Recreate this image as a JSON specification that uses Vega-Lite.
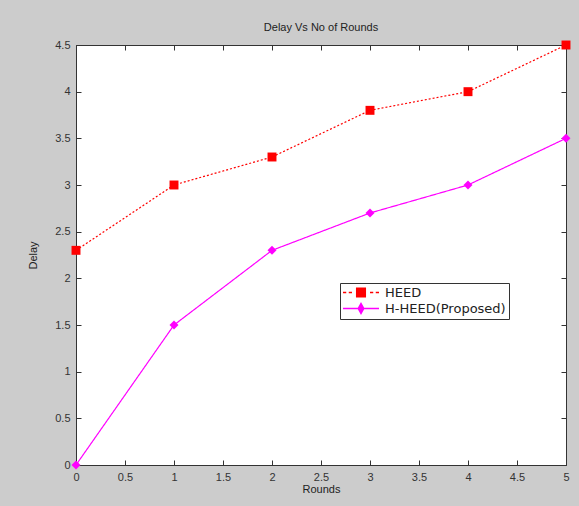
{
  "$schema": "https://vega.github.io/schema/vega-lite/v6.json",
  "width": 490,
  "height": 420,
  "autosize": {"type": "none"},
  "padding": {"left": 76, "top": 45, "right": 13, "bottom": 41},
  "background": "#cccccc",
  "title": {"text": "Delay Vs No of Rounds", "font": "Liberation Sans", "fontSize": 11, "fontWeight": "normal", "color": "#222", "offset": 6},
  "config": {
    "view": {"stroke": "#333", "strokeWidth": 1, "fill": "white"},
    "axis": {"labelFont": "Liberation Sans", "labelFontSize": 11, "labelColor": "#333", "titleFont": "Liberation Sans", "titleFontSize": 11, "titleFontWeight": "normal", "titleColor": "#222", "grid": false, "domainColor": "#333", "tickColor": "#333", "format": "~g", "labelFlush": false},
    "legend": {"orient": "none", "legendX": 264, "legendY": 238, "fillColor": "white", "strokeColor": "#333", "padding": 3, "labelFont": "DejaVu Sans", "labelFontSize": 13, "labelColor": "#222", "symbolSize": 1296, "clipHeight": 13, "rowPadding": 2, "labelOffset": 6, "symbolOpacity": 1, "symbolStrokeWidth": 0}
  },
  "resolve": {"axis": {"x": "independent", "y": "independent"}},
  "data": {"values": [
    {"round": 0, "delay": 2.3, "series": "HEED"},
    {"round": 1, "delay": 3.0, "series": "HEED"},
    {"round": 2, "delay": 3.3, "series": "HEED"},
    {"round": 3, "delay": 3.8, "series": "HEED"},
    {"round": 4, "delay": 4.0, "series": "HEED"},
    {"round": 5, "delay": 4.5, "series": "HEED"},
    {"round": 0, "delay": 0.0, "series": "H-HEED(Proposed)"},
    {"round": 1, "delay": 1.5, "series": "H-HEED(Proposed)"},
    {"round": 2, "delay": 2.3, "series": "H-HEED(Proposed)"},
    {"round": 3, "delay": 2.7, "series": "H-HEED(Proposed)"},
    {"round": 4, "delay": 3.0, "series": "H-HEED(Proposed)"},
    {"round": 5, "delay": 3.5, "series": "H-HEED(Proposed)"}
  ]},
  "layer": [
    {
      "mark": {"type": "line", "strokeWidth": 1.2, "clip": false},
      "encoding": {
        "x": {"field": "round", "type": "quantitative", "scale": {"domain": [0, 5], "nice": false}, "axis": {"title": "Rounds", "values": [0,0.5,1,1.5,2,2.5,3,3.5,4,4.5,5], "tickSize": 0, "labelPadding": 6, "titlePadding": 1}},
        "y": {"field": "delay", "type": "quantitative", "scale": {"domain": [0, 4.5], "nice": false}, "axis": {"title": "Delay", "values": [0,0.5,1,1.5,2,2.5,3,3.5,4,4.5], "tickSize": 0, "labelPadding": 6, "titlePadding": 16}},
        "color": {"field": "series", "type": "nominal", "scale": {"domain": ["HEED", "H-HEED(Proposed)"], "range": ["#ff0000", "#ff00ff"]}, "legend": {"title": null}},
        "strokeDash": {"field": "series", "type": "nominal", "scale": {"domain": ["HEED", "H-HEED(Proposed)"], "range": [[2, 2], [1, 0]]}, "legend": null}
      }
    },
    {
      "mark": {"type": "point", "filled": true, "opacity": 1, "size": 80, "clip": false},
      "encoding": {
        "x": {"field": "round", "type": "quantitative", "axis": {"orient": "top", "offset": -420, "values": [0,0.5,1,1.5,2,2.5,3,3.5,4,4.5,5], "labels": false, "domain": false, "title": null, "tickSize": 5}},
        "y": {"field": "delay", "type": "quantitative", "axis": {"orient": "right", "offset": -490, "values": [0,0.5,1,1.5,2,2.5,3,3.5,4,4.5], "labels": false, "domain": false, "title": null, "tickSize": 5}},
        "color": {"field": "series", "type": "nominal", "legend": {"title": null}},
        "shape": {"condition": {"test": "datum.series === 'HEED'", "value": "square"}, "value": "diamond"}
      }
    },
    {
      "mark": {"type": "point", "filled": true, "opacity": 0, "clip": false},
      "encoding": {
        "x": {"field": "round", "type": "quantitative", "axis": {"orient": "bottom", "offset": -420, "values": [0,0.5,1,1.5,2,2.5,3,3.5,4,4.5,5], "labels": false, "domain": false, "title": null, "tickSize": 5}},
        "y": {"field": "delay", "type": "quantitative", "axis": {"orient": "left", "offset": -490, "values": [0,0.5,1,1.5,2,2.5,3,3.5,4,4.5], "labels": false, "domain": false, "title": null, "tickSize": 5}},
        "color": {"field": "series", "type": "nominal", "legend": {"title": null}},
        "shape": {"field": "series", "type": "nominal",
          "scale": {"domain": ["HEED", "H-HEED(Proposed)"], "range": [
            "M-1,-0.035L-0.82,-0.035L-0.82,0.035L-1,0.035ZM-0.68,-0.035L-0.5,-0.035L-0.5,0.035L-0.68,0.035ZM0.5,-0.035L0.68,-0.035L0.68,0.035L0.5,0.035ZM0.82,-0.035L1,-0.035L1,0.035L0.82,0.035ZM-0.28,-0.28L0.28,-0.28L0.28,0.28L-0.28,0.28Z",
            "M-1,-0.035L1,-0.035L1,0.035L-1,0.035ZM0,-0.36L0.2,0L0,0.36L-0.2,0Z"
          ]},
          "legend": {"title": null}}
      }
    }
  ]
}
